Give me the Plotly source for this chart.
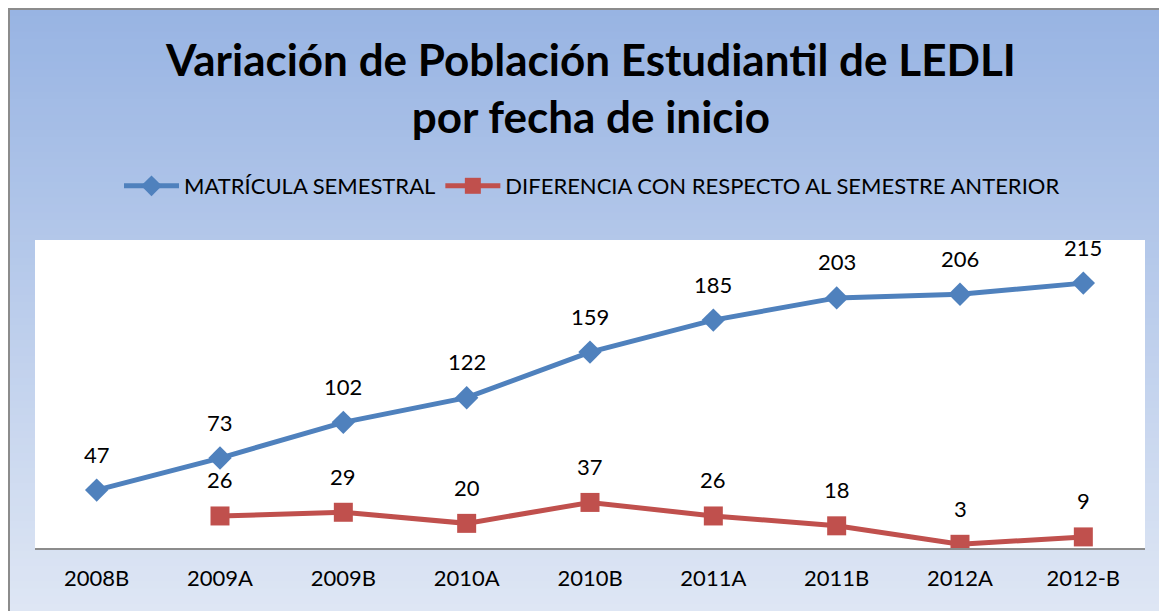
import plotly.graph_objects as go

categorias = ['2008B', '2009A', '2009B', '2010A', '2010B', '2011A', '2011B', '2012A', '2012-B']
matricula = [47, 73, 102, 122, 159, 185, 203, 206, 215]
diferencia = [None, 26, 29, 20, 37, 26, 18, 3, 9]

W, H = 1167, 611
OFF = 8  # la pagina deja 8px de margen en el body
L, T = 35 - OFF, 240 - OFF
pw, ph = 1110, 308
R, B = W - L - pw, H - T - ph


def px_x(p):
    return (p - OFF - L) / pw


def px_y(p):
    return (H - B - (p - OFF)) / ph


# fondo degradado (bandas horizontales)
shapes = []
n = 80
top, bot = (152, 180, 227), (222, 230, 244)
for i in range(n):
    f = i / (n - 1)
    c = tuple(round(top[k] + (bot[k] - top[k]) * f) for k in range(3))
    y0 = 9 + (H - 9) * i / n
    y1 = 9 + (H - 9) * (i + 1) / n + 1
    shapes.append(dict(type='rect', xref='paper', yref='paper', layer='below',
                       x0=px_x(9), x1=px_x(W + 20), y0=px_y(y0), y1=px_y(y1),
                       fillcolor='rgb(%d,%d,%d)' % c, line=dict(width=0)))
shapes.append(dict(type='rect', xref='paper', yref='paper', layer='below',
                   x0=px_x(9), x1=px_x(W + 20), y0=px_y(9), y1=px_y(H + 20),
                   fillcolor='rgba(0,0,0,0)', line=dict(color='#8c8c8c', width=2)))
shapes.append(dict(type='rect', xref='paper', yref='paper', layer='below',
                   x0=0, x1=1, y0=0, y1=1, fillcolor='white', line=dict(width=0)))

trace_mat = go.Scatter(
    x=categorias, y=matricula, name='MATRÍCULA SEMESTRAL',
    mode='lines+markers',
    line=dict(color='#4F81BD', width=5),
    marker=dict(symbol='diamond', size=18, color='#4F81BD'))

trace_dif = go.Scatter(
    x=categorias, y=diferencia, name='DIFERENCIA CON RESPECTO AL SEMESTRE ANTERIOR',
    mode='lines+markers',
    line=dict(color='#C0504D', width=5),
    marker=dict(symbol='square', size=19, color='#C0504D'))

# etiquetas de datos
annotations = []
for serie in (matricula, diferencia):
    for cat, v in zip(categorias, serie):
        if v is None:
            continue
        annotations.append(dict(x=cat, y=v, xref='x', yref='y', text=str(v),
                                showarrow=False, yshift=36,
                                font=dict(size=22, color='black')))

annotations.append(dict(text='<b>Variación de Población Estudiantil de LEDLI<br>por fecha de inicio</b>',
                        xref='paper', yref='paper', x=0.5, y=px_y(87),
                        xanchor='center', yanchor='middle', showarrow=False,
                        font=dict(size=44, color='black')))

layout = go.Layout(
    width=W, height=H,
    margin=dict(l=L, r=R, t=T, b=B),
    font=dict(family='Lato, Carlito, sans-serif', color='black'),
    paper_bgcolor='white', plot_bgcolor='rgba(0,0,0,0)',
    showlegend=True,
    legend=dict(orientation='h', x=px_x(592), xanchor='center', y=px_y(186), yanchor='middle',
                font=dict(size=22), bgcolor='rgba(0,0,0,0)', itemwidth=55),
    xaxis=dict(range=[-0.5, 8.5], showline=True, linecolor='#8c8c8c', linewidth=2,
               showgrid=False, ticks='', tickfont=dict(size=22), ticklabelstandoff=10),
    yaxis=dict(range=[0, 250], visible=False, showgrid=False, zeroline=False),
    annotations=annotations,
    shapes=shapes)

fig = go.Figure(data=[trace_mat, trace_dif], layout=layout)
fig.write_html('out.html')
